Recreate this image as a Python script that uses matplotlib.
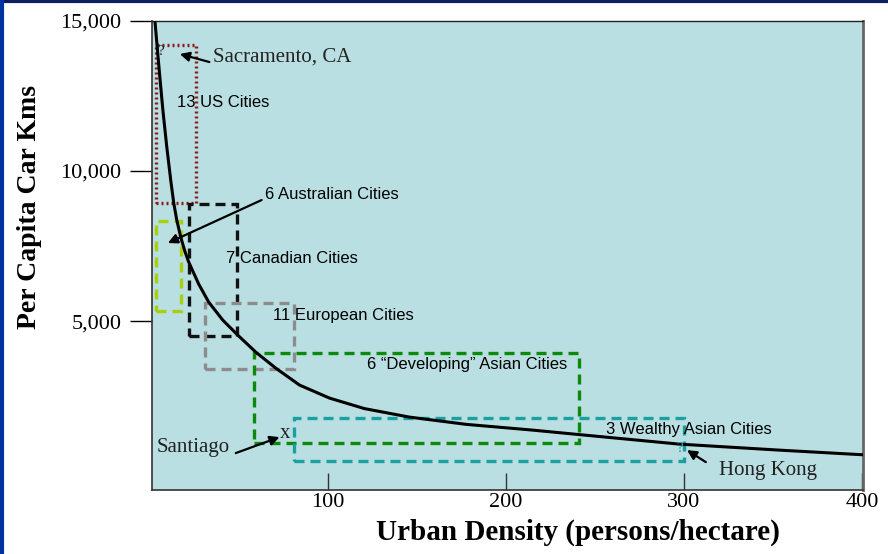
import matplotlib.pyplot as plt
from matplotlib.patches import Rectangle
from matplotlib.lines import Line2D

# curve (density, car km per capita)
curve_x = [3.1, 4.8, 5.9, 7.6, 9.8, 12.0, 13.7, 15.4, 17.6, 19.9, 22.1, 27.7, 33.3,
           41.2, 49.6, 59.7, 70.9, 84.3, 101.1, 120.7, 145.9, 177.9, 214.9, 240.1,
           297.2, 353.2, 400.8]
curve_y = [15033, 13867, 13133, 12033, 10800, 9700, 8933, 8367, 7800, 7333, 6967, 6233, 5633,
           5033, 4533, 3967, 3433, 2867, 2433, 2083, 1800, 1557, 1367, 1223,
           900, 700, 543]

# city groups: (x0, x1, y0, y1)
groups = ["13 US Cities", "6 Australian Cities", "7 Canadian Cities",
          "11 European Cities", "6 \u201cDeveloping\u201d Asian Cities", "3 Wealthy Asian Cities"]
group_x0 = [3.6, 3.6, 22.1, 31.1, 58.7, 81.1]
group_x1 = [26.1, 17.5, 49.4, 81.1, 241.2, 300.0]
group_y0 = [8923, 5333, 4510, 3390, 923, 333]
group_y1 = [14200, 8343, 8900, 5590, 3943, 1757]

# single cities
cities = ["Sacramento, CA", "Santiago", "Hong Kong"]
city_x = [6.4, 75.9, 300.6]
city_y = [13970, 1267, 733]

yticks = [5000, 10000, 15000]
yticklabels = ["5,000", "10,000", "15,000"]
xticks = [100, 200, 300, 400]
xticklabels = ["100", "200", "300", "400"]

SERIF = ["Liberation Serif", "DejaVu Serif"]
SANS = ["Liberation Sans", "DejaVu Sans"]

box_colors = ["#8b1a1a", "#a6d10a", "#111111", "#8c8c8c", "#0b8a0b", "#1c9fa0"]
box_styles = [(0, (0.6, 0.9)), (0, (3, 1.8)), (0, (3, 1.8)), (0, (3, 1.8)),
              (0, (3, 1.8)), (0, (3, 1.8))]

fig = plt.figure(figsize=(8.88, 5.54), dpi=100)
ax = fig.add_axes([152 / 888, 1 - 490 / 554, 711 / 888, 469 / 554])
ax.set_facecolor("#badfe2")
ax.set_xlim(1.5, 400.5)
ax.set_ylim(-630, 15000)

# boxes
for i in range(len(groups)):
    ax.add_patch(Rectangle((group_x0[i], group_y0[i]), group_x1[i] - group_x0[i],
                           group_y1[i] - group_y0[i], fill=False, edgecolor=box_colors[i],
                           linestyle=box_styles[i], linewidth=2.4, zorder=2))

ax.plot(curve_x, curve_y, color="black", lw=2.2, zorder=3, solid_joinstyle="round")

# group labels
label_pos = [(15.4, 12300), (64.7, 9233), (42.9, 7100), (69.2, 5200), (122.4, 3567), (256.3, 1400)]
for name, (tx, ty) in zip(groups, label_pos):
    ax.text(tx, ty, name, family=SANS, fontsize=12, va="center", ha="left", zorder=4)

arrow = dict(arrowstyle="-|>", color="black", lw=1.6, mutation_scale=14, shrinkA=0, shrinkB=0)
ax.annotate("", xy=(10.4, 7600), xytext=(63, 9033), arrowprops=arrow, zorder=5)

# single cities
ax.text(35.6, 13800, cities[0], family=SERIF, fontsize=15, color="#222222", va="center")
ax.annotate("", xy=(17.1, 13900), xytext=(33.7, 13633), arrowprops=arrow)
ax.text(city_x[0], city_y[0], "?", family=SERIF, fontsize=11, color="#222222",
        ha="center", va="center")

ax.text(4.2, 800, cities[1], family=SERIF, fontsize=15, color="#222222", va="center")
ax.annotate("", xy=(73.1, 1133), xytext=(48.5, 600), arrowprops=arrow)
ax.text(city_x[1], city_y[1], "x", family=SERIF, fontsize=15, color="#222222",
        ha="center", va="center")

ax.text(319.6, 33, cities[2], family=SERIF, fontsize=15, color="#222222", va="center")
ax.annotate("", xy=(301.7, 700), xytext=(312.3, 300), arrowprops=arrow)
ax.text(city_x[2] - 3, city_y[2] + 30, "?", family=SERIF, fontsize=11, color="#1c9fa0",
        ha="center", va="center")

# axes styling
ax.set_yticks(yticks)
ax.set_yticklabels(yticklabels, family=SERIF, fontsize=16)
ax.set_xticks(xticks)
ax.set_xticklabels(xticklabels, family=SERIF, fontsize=16)
ax.tick_params(axis="y", direction="out", length=16, width=1, pad=6, colors="black")
ax.tick_params(axis="x", direction="in", length=12, width=1, pad=2, color="#333333")
for s in ["left", "bottom"]:
    ax.spines[s].set_color("#333333")
    ax.spines[s].set_linewidth(1.2)
ax.spines["top"].set_color("#222222")
ax.spines["top"].set_linewidth(1)
ax.spines["right"].set_color("#666666")
ax.spines["right"].set_linewidth(2)

fig.text(578 / 888, 1 - 532 / 554, "Urban Density (persons/hectare)", family=SERIF,
         fontsize=21, weight="bold", ha="center", va="center")
fig.text(30 / 888, 1 - 207 / 554, "Per Capita Car Kms", family=SERIF, fontsize=20,
         weight="bold", ha="center", va="center", rotation=90)

# frame around the slide
fig.add_artist(Line2D([0, 1], [0.998, 0.998], transform=fig.transFigure, color="#0c1f5e", lw=3))
fig.add_artist(Line2D([0.002, 0.002], [0, 1], transform=fig.transFigure, color="#0033a0", lw=3))

fig.savefig("out.png", dpi=100, facecolor="white")
